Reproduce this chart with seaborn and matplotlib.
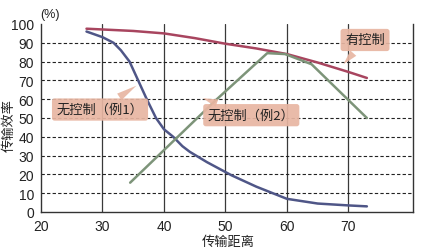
import numpy as np
import pandas as pd
import matplotlib
matplotlib.use("Agg")
import matplotlib.pyplot as plt
import seaborn as sns

# Data
ctrl_x = [27.4, 35, 40, 45, 50, 55, 60, 65, 70, 73]
ctrl_y = [97.5, 96.3, 95, 92.5, 89.5, 87, 84, 79.5, 74.5, 71.3]

ex1_x = [27.4, 30, 31.8, 33, 34.4, 35.8, 37.2, 38.7, 40, 41.5, 43, 44.2, 47, 51, 55, 60, 65, 70, 73]
ex1_y = [96, 93, 90, 86, 80, 70, 60, 50, 44, 40, 35, 32, 26.5, 19.5, 13.5, 7, 4.5, 3.5, 3]

ex2_x = [34.5, 48.6, 56.8, 59.7, 64, 73]
ex2_y = [15.6, 60, 84.5, 84, 78.6, 50]

series_names = ["有控制", "无控制（例1）", "无控制（例2）"]
x_ticks = [20, 30, 40, 50, 60, 70]
y_ticks = [0, 10, 20, 30, 40, 50, 60, 70, 80, 90, 100]

df = pd.concat([
    pd.DataFrame({"x": ctrl_x, "y": ctrl_y, "s": series_names[0]}),
    pd.DataFrame({"x": ex1_x, "y": ex1_y, "s": series_names[1]}),
    pd.DataFrame({"x": ex2_x, "y": ex2_y, "s": series_names[2]}),
])

sns.set_theme(style="white")
plt.rcParams['font.family'] = ['Liberation Sans', 'Noto Sans CJK SC', 'DejaVu Sans']
cjk = ['Noto Sans CJK SC', 'DejaVu Sans']

fig = plt.figure(figsize=(4.30, 2.51), dpi=100)
ax = fig.add_axes([41/430, 1-213/251, (413-41)/430, (213-25)/251])

# grid
for xv in [30, 40, 50, 60, 70]:
    ax.axvline(xv, color="#3a3a3a", lw=0.9, zorder=1)
for yv in range(10, 100, 10):
    ax.axhline(yv, color="#222222", lw=0.8, ls=(0, (3, 2)), zorder=1)

palette = {series_names[0]: "#a8455f", series_names[1]: "#4f5687", series_names[2]: "#7d9479"}
sns.lineplot(data=df, x="x", y="y", hue="s", palette=palette, sort=False,
             estimator=None, lw=1.8, legend=False, ax=ax, zorder=3)

ax.set_xlim(20, 80.5)
ax.set_ylim(0, 100)
ax.set_xticks(x_ticks)
ax.set_yticks(y_ticks)
ax.tick_params(axis="both", length=0, labelsize=10, colors="#222222")
ax.tick_params(axis="x", pad=5)
ax.tick_params(axis="y", pad=5)
ax.set_xlabel("")
ax.set_ylabel("")
for side in ["left", "bottom", "right"]:
    ax.spines[side].set_color("#333333")
    ax.spines[side].set_linewidth(1.0)
ax.spines["top"].set_visible(False)

box_fc = "#e8b6a2"
def label(text, xy, xytext):
    ax.annotate(text, xy=xy, xytext=xytext, ha="center", va="center",
                fontsize=9.5, family=cjk, color="#222222", zorder=5,
                bbox=dict(boxstyle="round,pad=0.35,rounding_size=0.2", fc=box_fc, ec="none", alpha=0.92),
                arrowprops=dict(arrowstyle="wedge,tail_width=0.6,shrink_factor=0.5",
                                fc=box_fc, ec="none", alpha=0.92))

label(series_names[0], (68.9, 77.5), (72.7, 91.5))
label(series_names[1], (35.9, 68), (29.6, 54.5))
label(series_names[2], (45.9, 61), (54.2, 51.5))

fig.text(50/430, 1-15/251, "(%)", fontsize=9, ha="center", va="center", color="#222222")
fig.text(9/430, 1-125/251, "传输效率", fontsize=9.5, family=cjk, rotation=90,
         ha="center", va="center", color="#222222")
fig.text(228/430, 1-242/251, "传输距离", fontsize=9.5, family=cjk,
         ha="center", va="center", color="#222222")

fig.savefig("out.png", dpi=100)
